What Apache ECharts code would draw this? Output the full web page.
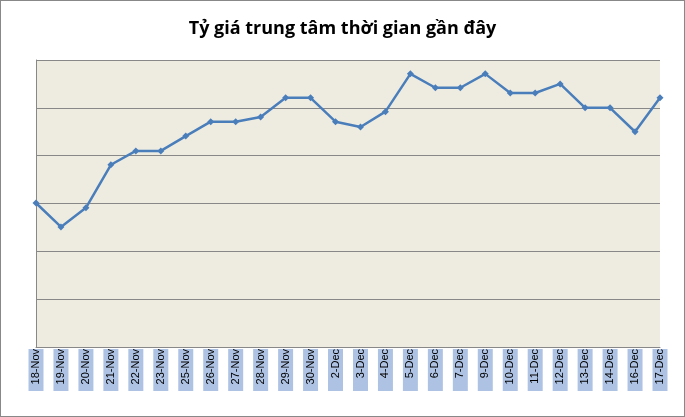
<!DOCTYPE html>
<html><head><meta charset="utf-8">
<script src="https://cdn.jsdelivr.net/npm/echarts@6/dist/echarts.min.js"></script>
<style>html,body{margin:0;padding:0;background:#fff}#c{width:685px;height:417px;box-sizing:border-box;border:1px solid #888}</style>
</head><body><div id="c"></div>
<script>
const dates = ['18-Nov','19-Nov','20-Nov','21-Nov','22-Nov','23-Nov','25-Nov','26-Nov','27-Nov','28-Nov','29-Nov','30-Nov',
  '2-Dec','3-Dec','4-Dec','5-Dec','6-Dec','7-Dec','9-Dec','10-Dec','11-Dec','12-Dec','13-Dec','14-Dec','16-Dec','17-Dec'];
const rates = [3.01,2.51,2.91,3.81,4.10,4.10,4.41,4.71,4.71,4.81,5.21,5.21,
  4.71,4.60,4.92,5.71,5.42,5.42,5.71,5.31,5.31,5.50,5.00,5.00,4.50,5.21];

const chart = echarts.init(document.getElementById('c'));
chart.setOption({
  animation: false,
  title: {
    text: 'Tỷ giá trung tâm thời gian gần đây',
    left: 'center', top: 14,
    textStyle: { fontFamily: 'Open Sans', fontSize: 18, fontWeight: 'bold', color: '#000' }
  },
  grid: { left: 35, right: 24, top: 59, bottom: 69, backgroundColor: '#eeece1', show: true, borderWidth: 0 },
  xAxis: {
    type: 'category', data: dates, boundaryGap: false,
    axisLine: { lineStyle: { color: '#888' } },
    axisTick: { show: false },
    axisLabel: {
      rotate: 90, interval: 0, fontSize: 11, color: '#000', fontFamily: 'Liberation Sans',
      backgroundColor: '#aec3e3', width: 42, padding: [2, 0, 2, 0], margin: 2
    }
  },
  yAxis: {
    type: 'value', min: 0, max: 6, interval: 1,
    axisLabel: { show: false },
    axisLine: { show: true, lineStyle: { color: '#888' } },
    splitLine: { lineStyle: { color: '#888' } }
  },
  series: [{
    type: 'line', data: rates,
    symbol: 'diamond', symbolSize: 7,
    lineStyle: { color: '#4a7ebb', width: 2.5 },
    itemStyle: { color: '#4a7ebb' }
  }]
});
</script></body></html>
